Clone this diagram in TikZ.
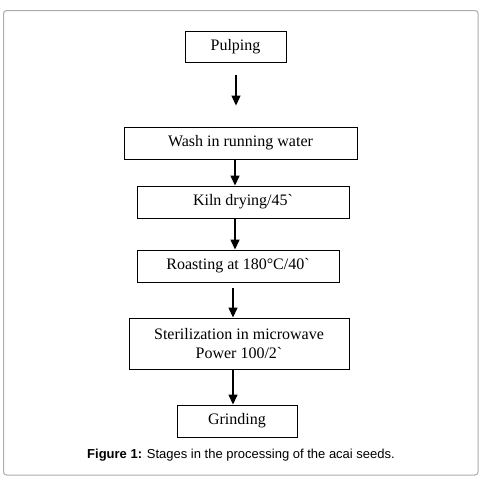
\documentclass[tikz,border=0pt]{standalone}
\usepackage{fontspec}
\setmainfont{Liberation Serif}[Ligatures=TeXOff]
\newfontfamily\capfont{Liberation Sans}
\usetikzlibrary{arrows.meta}
\begin{document}
\begin{tikzpicture}[x=1pt,y=-1pt,
  stepbox/.style={draw,line width=0.9pt,minimum width=#1,inner sep=0pt,align=center,font=\fontsize{16}{19}\selectfont},
  arr/.style={line width=1.4pt,-{Triangle[length=10pt,width=9pt]}}]
\useasboundingbox (0,0) rectangle (483,485);
\draw[gray!65,line width=1pt,rounded corners=3pt] (3.5,10.5) rectangle (478,475);
\node[stepbox=101pt,minimum height=31pt] (pulp) at (235.5,46.5) {Pulping};
\node[stepbox=233pt,minimum height=32pt] (wash) at (240.5,143) {Wash in running water};
\node[stepbox=212pt,minimum height=32pt] (kiln) at (243,202) {Kiln drying/45`};
\node[stepbox=202pt,minimum height=32pt] (roast) at (238,266) {Roasting at 180°C/40`};
\node[stepbox=220pt,minimum height=51pt] (ster) at (239,343.5) {Sterilization in microwave\\Power 100/2`};
\node[stepbox=120pt,minimum height=32pt] (grind) at (237,421) {Grinding};
\node[font=\capfont\fontsize{13}{15}\selectfont] (cap) at (241,455) {\textbf{Figure 1:} Stages in the processing of the acai seeds.};
\draw[arr,line width=1.1pt,shorten <=13pt,shorten >=21pt] (pulp.south -| 236,0) -- (wash.north -| 236,0);
\draw[arr] (wash.south -| 235,0) -- (kiln.north -| 235,0);
\draw[arr] (kiln.south -| 235,0) -- (roast.north -| 235,0);
\draw[arr,shorten <=6pt] (roast.south -| 233,0) -- (ster.north -| 233,0);
\draw[arr] (ster.south -| 233,0) -- (grind.north -| 233,0);
\end{tikzpicture}
\end{document}
